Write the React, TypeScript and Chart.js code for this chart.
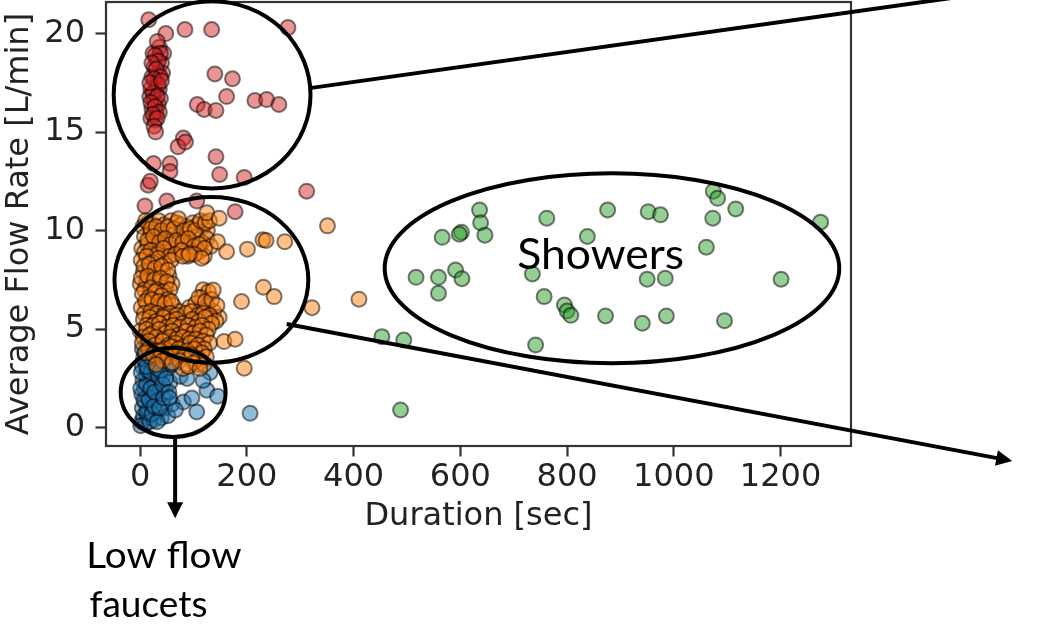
import React, { useEffect, useRef } from 'react';
import { Chart, registerables } from 'chart.js';

Chart.register(...registerables);

// ---------- data ----------
const xTicks = [0, 200, 400, 600, 800, 1000, 1200];
const yTicks = [0, 5, 10, 15, 20];
const xTitle = 'Duration [sec]';
const yTitle = 'Average Flow Rate [L/min]';

// blue cluster (low flow faucets)
const lowFlowPoints: [number, number][] = [
  [2, 0.3], [6, 0.6], [10, 0.2], [14, 0.5], [4, 1.0], [9, 1.3], [15, 0.9], [20, 1.2],
  [3, 1.7], [8, 2.0], [13, 1.6], [18, 1.9], [24, 1.5], [5, 2.4], [11, 2.7], [17, 2.3],
  [23, 2.6], [29, 2.2], [4, 3.1], [10, 3.4], [16, 3.0], [22, 3.3], [28, 2.9], [8, 3.8],
  [15, 4.0], [21, 3.7], [30, 3.6], [36, 3.2], [26, 0.4], [30, 0.8], [34, 1.4], [38, 2.0],
  [42, 2.6], [40, 0.5], [46, 1.0], [48, 1.8], [50, 3.0], [44, 3.5], [56, 2.3], [58, 3.3],
  [24, 4.2], [35, 4.0], [52, 0.6], [60, 1.2],
  [1, 0.1], [12, 0.8], [18, 0.3], [22, 0.7], [7, 1.4], [17, 1.4], [26, 1.1], [1, 2.0],
  [12, 2.2], [20, 2.0], [27, 1.8], [2, 2.8], [14, 2.9], [20, 2.8], [26, 3.2], [34, 2.6],
  [6, 3.5], [12, 3.1], [18, 3.6], [26, 3.9], [32, 3.0], [40, 3.8], [12, 4.3], [4, 4.0],
  [32, 0.3], [36, 1.0], [44, 1.5], [42, 2.2], [38, 2.9], [48, 2.5], [54, 1.8],
  [75, 2.6], [106, 3.2], [125, 1.9], [145, 1.6], [106, 0.8], [81, 1.3], [97, 1.5],
  [206, 0.73], [66, 0.9], [131, 2.8], [59, 3.2], [88, 2.5], [118, 2.4], [55, 1.5],
];

// orange cluster (faucets)
const faucetPoints: [number, number][] = [
  [5, 10.2], [15, 10.4], [24, 10.3], [35, 10.5], [45, 10.3], [58, 10.5], [68, 10.4], [77, 10.3],
  [88, 10.2], [99, 10.4], [108, 10.3], [118, 10.2], [126, 10.0],
  [8, 9.7], [20, 9.9], [30, 9.6], [42, 9.8], [52, 9.5], [63, 9.8], [74, 9.6], [85, 9.8],
  [96, 9.5], [106, 9.7], [116, 9.4], [125, 9.6], [132, 9.2],
  [3, 9.1], [14, 9.3], [26, 9.0], [38, 9.2], [49, 8.9], [60, 9.1], [72, 8.9], [83, 9.2],
  [95, 8.9], [110, 8.9], [120, 8.7],
  [10, 10.5], [20, 10.1], [30, 10.2], [40, 10.0], [52, 10.2], [63, 10.1], [72, 10.6], [82, 10.0],
  [94, 10.1], [103, 10.0], [113, 10.5], [122, 10.4], [130, 10.5], [14, 9.5], [25, 9.7], [36, 9.4],
  [47, 9.6], [57, 9.3], [68, 9.5], [80, 9.4], [90, 9.6], [101, 9.2], [111, 9.3], [121, 9.1],
  [8, 8.9], [20, 9.0], [32, 8.8], [44, 9.1], [55, 8.7], [66, 8.8], [78, 9.0], [89, 8.7],
  [102, 8.8], [115, 8.6],
  [2, 8.5], [12, 8.7], [22, 8.4], [34, 8.6], [46, 8.3], [58, 8.5], [80, 8.7], [92, 8.8],
  [6, 7.9], [18, 8.0], [30, 7.8], [42, 7.9], [54, 7.7],
  [0, 7.3], [12, 7.4], [24, 7.2], [36, 7.4], [48, 7.1], [60, 7.3],
  [7, 8.2], [17, 8.3], [28, 8.1], [40, 8.2], [52, 8.0], [2, 7.6],
  [14, 7.7], [26, 7.5], [38, 7.6], [50, 7.4], [8, 7.0], [20, 7.1],
  [32, 7.0], [44, 6.9], [56, 7.0],
  [4, 6.8], [16, 6.6], [28, 6.9], [40, 6.7], [52, 6.5],
  [118, 7.0], [116, 6.6], [128, 6.9],
  [2, 6.1], [14, 6.3], [26, 6.0], [38, 6.2], [50, 6.0], [62, 6.2], [74, 5.9], [92, 6.1],
  [104, 6.3], [114, 6.0], [126, 6.2], [138, 5.9], [148, 5.6],
  [10, 6.4], [22, 6.5], [34, 6.4], [46, 6.3], [58, 6.4], [110, 6.6],
  [122, 6.4], [134, 6.5], [144, 6.2], [8, 5.8], [20, 5.9], [32, 5.8], [44, 5.7], [56, 5.8],
  [68, 5.7], [86, 5.8], [96, 5.9], [108, 5.7], [118, 5.8], [130, 5.7], [142, 5.4],
  [6, 5.5], [18, 5.6], [30, 5.4], [44, 5.6], [56, 5.4], [68, 5.5], [80, 5.3], [98, 5.5],
  [110, 5.4], [122, 5.6], [134, 5.3],
  [12, 5.2], [24, 5.2], [36, 5.3], [50, 5.1], [62, 5.2], [74, 5.1], [90, 5.2], [104, 5.1],
  [116, 5.2], [128, 5.0],
  [0, 4.9], [12, 5.0], [24, 4.8], [36, 5.0], [48, 4.8], [60, 4.9], [72, 4.7], [86, 4.9],
  [100, 4.8], [112, 4.9], [124, 4.7],
  [6, 4.6], [18, 4.7], [30, 4.6], [44, 4.5], [56, 4.6], [68, 4.5], [80, 4.6], [92, 4.5],
  [104, 4.5], [118, 4.4], [130, 4.3],
  [4, 4.3], [16, 4.4], [28, 4.2], [42, 4.4], [54, 4.2], [66, 4.3], [80, 4.1], [94, 4.3],
  [108, 4.2], [120, 4.0],
  [16, 4.0], [30, 3.9], [46, 4.0], [58, 4.1], [72, 4.0], [88, 3.9], [102, 4.0], [116, 3.8],
  [10, 3.8], [24, 3.7], [38, 3.9], [52, 3.6], [66, 3.8], [82, 3.6], [96, 3.7], [110, 3.5], [124, 3.6],
  [42, 3.4], [74, 3.4], [100, 3.3], [120, 3.2], [80, 3.0],
  [30, 3.2], [60, 3.3], [90, 3.1], [112, 3.0],
  [125, 10.9], [148, 10.63], [145, 9.44], [162, 8.93], [201, 9.06], [230, 9.53], [236, 9.5],
  [271, 9.44], [137, 6.99], [190, 6.4], [231, 7.13], [251, 6.65], [322, 6.09], [157, 4.37],
  [178, 4.49], [195, 3.02], [351, 10.24], [410, 6.52],
];

// red cluster (high flow)
const highFlowPoints: [number, number][] = [
  [16, 20.7], [48, 20.0], [84, 20.2], [134, 20.2], [277, 20.3],
  [36, 19.3], [44, 19.0], [30, 18.7], [40, 18.5], [26, 18.3], [34, 18.0], [22, 17.8], [30, 17.5],
  [20, 17.2], [28, 17.0], [36, 17.2], [18, 16.8], [26, 16.6], [34, 16.4], [22, 16.2], [30, 16.0],
  [20, 15.7], [28, 15.6], [38, 16.7], [42, 18.0], [24, 19.0],
  [32, 19.6], [38, 19.0], [28, 18.9], [34, 18.6], [22, 18.5], [30, 18.2], [38, 17.8], [26, 17.7],
  [34, 17.4], [24, 17.0], [32, 16.8], [20, 16.5], [28, 16.3], [36, 16.0], [24, 15.9], [32, 15.7],
  [26, 15.3], [18, 17.5], [40, 17.6],
  [140, 17.95], [173, 17.7], [162, 16.8], [107, 16.4], [120, 16.15], [142, 16.1], [215, 16.6],
  [237, 16.65], [260, 16.4],
  [29, 15.0], [81, 14.7], [71, 14.25], [85, 14.5], [142, 13.75], [25, 13.4], [56, 13.4], [56, 13.0],
  [149, 12.85], [195, 12.7], [15, 12.3], [19, 12.5], [312, 12.0], [9, 11.25], [50, 11.5],
  [106, 11.5], [178, 10.96],
];

// green cluster (showers)
const showerPoints: [number, number][] = [
  [1074, 12.0], [1082, 11.64], [1116, 11.1], [1073, 10.63], [1275, 10.43], [636, 11.05],
  [638, 10.4], [646, 9.77], [566, 9.66], [602, 9.92], [598, 9.82], [762, 10.63], [876, 11.05],
  [952, 10.96], [975, 10.8], [838, 9.7], [1061, 9.16], [517, 7.63], [559, 7.63], [559, 6.82],
  [591, 8.0], [603, 7.56], [735, 7.8], [950, 7.53], [984, 7.58], [1201, 7.53], [757, 6.65],
  [795, 6.23], [800, 5.92], [807, 5.7], [872, 5.67], [941, 5.3], [986, 5.67], [1095, 5.43],
  [741, 4.2], [453, 4.62], [494, 4.45], [488, 0.9],
];

// ---------- annotations (data coordinates) ----------
const ellipses = [
  { cx: 134.8, cy: 16.89, rx: 184.4, ry: 4.75 },
  { cx: 133.5, cy: 7.5, rx: 181.6, ry: 4.21 },
  { cx: 61.8, cy: 1.79, rx: 98.3, ry: 2.26 },
  { cx: 884.1, cy: 8.09, rx: 425.9, ry: 4.82 },
];
const connectors = [
  { x1: 317.7, y1: 17.23, x2: 1535, y2: 21.86, head: false },
  { x1: 274.6, y1: 5.26, x2: 1634, y2: -1.69, head: true },
  { x1: 65.5, y1: -0.42, x2: 65.5, y2: -4.6, head: true },
];
const notes = [
  { text: 'Showers', x: 862.2, y: 8.04, size: 43, width: 164, align: 'center' },
  { text: 'Low flow', x: -94.9, y: -7.14, size: 37, width: 152, align: 'left' },
  { text: 'faucets', x: -94.9, y: -9.59, size: 37, width: 117, align: 'left' },
];

const toXY = (pts: [number, number][]) => pts.map(([x, y]) => ({ x, y }));

const framePlugin = {
  id: 'frame',
  afterDatasetsDraw(chart: any) {
    const { ctx, chartArea: a } = chart;
    ctx.save();
    ctx.strokeStyle = '#333';
    ctx.lineWidth = 2.2;
    ctx.strokeRect(a.left, a.top, a.right - a.left, a.bottom - a.top);
    ctx.restore();
  },
};

const annotationPlugin = {
  id: 'annot',
  afterDraw(chart: any) {
    const { ctx } = chart;
    const sx = chart.scales.x;
    const sy = chart.scales.y;
    const px = (v: number) => sx.getPixelForValue(v);
    const py = (v: number) => sy.getPixelForValue(v);
    ctx.save();
    ctx.strokeStyle = '#000';
    ctx.fillStyle = '#000';
    ctx.lineWidth = 4;
    for (const e of ellipses) {
      ctx.beginPath();
      ctx.ellipse(px(e.cx), py(e.cy), Math.abs(px(e.cx + e.rx) - px(e.cx)), Math.abs(py(e.cy + e.ry) - py(e.cy)), 0, 0, Math.PI * 2);
      ctx.stroke();
    }
    for (const c of connectors) {
      const x1 = px(c.x1), y1 = py(c.y1), x2 = px(c.x2), y2 = py(c.y2);
      const ang = Math.atan2(y2 - y1, x2 - x1);
      const hl = 16, hw = 8;
      const ex = c.head ? x2 - Math.cos(ang) * (hl - 2) : x2;
      const ey = c.head ? y2 - Math.sin(ang) * (hl - 2) : y2;
      ctx.beginPath();
      ctx.moveTo(x1, y1);
      ctx.lineTo(ex, ey);
      ctx.stroke();
      if (c.head) {
        const bx = x2 - Math.cos(ang) * hl, by = y2 - Math.sin(ang) * hl;
        ctx.beginPath();
        ctx.moveTo(x2, y2);
        ctx.lineTo(bx + Math.sin(ang) * hw, by - Math.cos(ang) * hw);
        ctx.lineTo(bx - Math.sin(ang) * hw, by + Math.cos(ang) * hw);
        ctx.closePath();
        ctx.fill();
      }
    }
    for (const n of notes) {
      ctx.save();
      ctx.font = `${n.size}px Lato, "Open Sans", sans-serif`;
      ctx.textAlign = 'left';
      ctx.textBaseline = 'alphabetic';
      const m = ctx.measureText(n.text);
      const ink = m.actualBoundingBoxLeft + m.actualBoundingBoxRight;
      const s = n.width / ink;
      ctx.translate(px(n.x), py(n.y));
      ctx.scale(s, 1);
      const x0 = n.align === 'center' ? (m.actualBoundingBoxLeft - m.actualBoundingBoxRight) / 2 : m.actualBoundingBoxLeft;
      ctx.fillText(n.text, x0, 0);
      ctx.restore();
    }
    ctx.restore();
  },
};

const tickFont = { family: '"DejaVu Sans", sans-serif', size: 32 };
const textColor = '#222';

function makeDataset(label: string, pts: [number, number][], color: string, order: number) {
  const r = parseInt(color.slice(1, 3), 16);
  const g = parseInt(color.slice(3, 5), 16);
  const b = parseInt(color.slice(5, 7), 16);
  return {
    label,
    data: toXY(pts),
    backgroundColor: `rgba(${r},${g},${b},0.5)`,
    borderColor: 'rgba(0,0,0,0.5)',
    borderWidth: 2,
    pointRadius: 7.5,
    pointHoverRadius: 7.5,
    order,
  };
}

export default function App() {
  const ref = useRef<HTMLCanvasElement | null>(null);
  useEffect(() => {
    if (!ref.current) return;
    const chart = new Chart(ref.current, {
      type: 'scatter',
      data: {
        datasets: [
          makeDataset('Showers', showerPoints, '#2ca02c', 1),
          makeDataset('High flow', highFlowPoints, '#d62728', 2),
          makeDataset('Faucets', faucetPoints, '#ff7f0e', 3),
          makeDataset('Low flow faucets', lowFlowPoints, '#1f77b4', 4),
        ],
      },
      options: {
        animation: false,
        responsive: false,
        devicePixelRatio: 1,
        layout: { autoPadding: false, padding: { left: 0, right: 207, top: 2, bottom: 84.2 } },
        plugins: { legend: { display: false }, tooltip: { enabled: false } },
        scales: {
          x: {
            type: 'linear',
            min: -64,
            max: 1332,
            afterBuildTicks: (scale: any) => {
              scale.ticks = xTicks.map((v) => ({ value: v }));
            },
            afterFit: (scale: any) => {
              scale.height = 93.8;
              scale.paddingLeft = 0;
              scale.paddingRight = 0;
            },
            grid: { display: true, drawOnChartArea: false, drawTicks: true, tickLength: 10.5, tickWidth: 2.2, tickColor: '#333' },
            border: { display: false },
            ticks: { font: tickFont, color: textColor, padding: 2.3, maxRotation: 0, autoSkip: false, callback: (v: any) => String(v) },
            title: { display: true, text: xTitle, font: tickFont, color: textColor, padding: { top: 4, bottom: 4 } },
          },
          y: {
            type: 'linear',
            min: -0.93,
            max: 21.6,
            afterBuildTicks: (scale: any) => {
              scale.ticks = yTicks.map((v) => ({ value: v }));
            },
            afterFit: (scale: any) => {
              scale.width = 106;
              scale.paddingTop = 0;
              scale.paddingBottom = 0;
            },
            grid: { display: true, drawOnChartArea: false, drawTicks: true, tickLength: 10.5, tickWidth: 2.2, tickColor: '#333' },
            border: { display: false },
            ticks: { font: tickFont, color: textColor, padding: 10.5, autoSkip: false, callback: (v: any) => String(v) },
            title: { display: true, text: yTitle, font: tickFont, color: textColor, padding: { top: 0, bottom: 0 } },
          },
        },
      },
      plugins: [framePlugin, annotationPlugin],
    } as any);
    return () => chart.destroy();
  }, []);
  return (
    <div style={{ position: 'absolute', left: 0, top: 0, width: 1058, height: 624, background: '#fff' }}>
      <canvas ref={ref} width={1058} height={624} style={{ display: 'block', width: 1058, height: 624 }} />
    </div>
  );
}
